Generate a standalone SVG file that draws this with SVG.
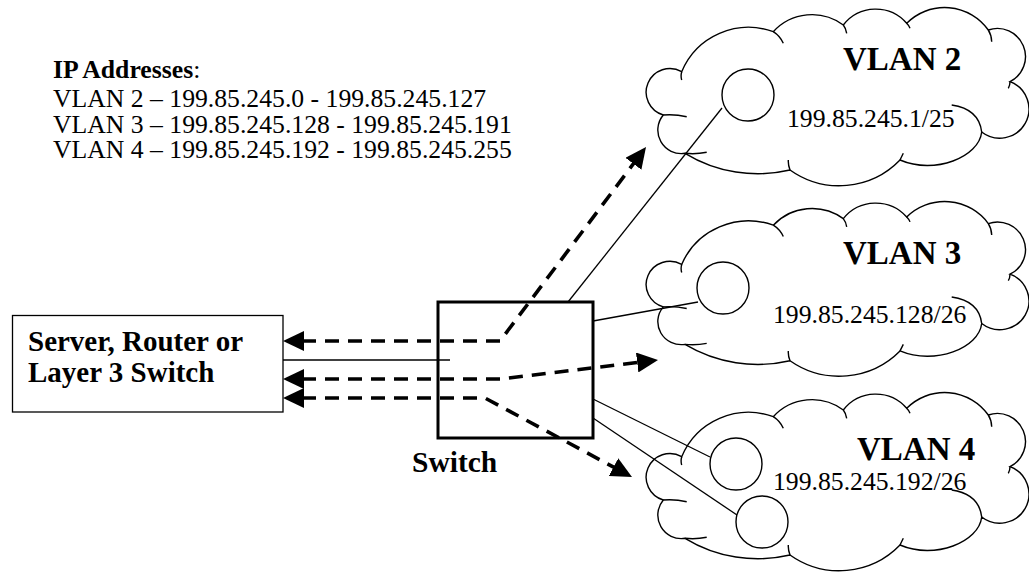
<svg xmlns="http://www.w3.org/2000/svg" width="1029" height="576" viewBox="0 0 1029 576">
<defs>
<style>
.bold{font-family:"Liberation Serif","Times New Roman",serif;font-weight:bold;fill:#000}
.reg{font-family:"Liberation Serif","Times New Roman",serif;font-weight:normal;fill:#000}
.cloud{fill:#fff;stroke:#000;stroke-width:1.4}
.inner{fill:none;stroke:#000;stroke-width:1.4}
.thin{fill:none;stroke:#000;stroke-width:1.3}
.host{fill:#fff;stroke:#000;stroke-width:1.4}
.flow{fill:none;stroke:#000;stroke-width:3.6;stroke-dasharray:14 9;stroke-dashoffset:14;marker-start:url(#ah);marker-end:url(#ah)}
</style>
<marker id="ah" viewBox="0 0 21 20" markerWidth="21" markerHeight="20" refX="11" refY="10" orient="auto-start-reverse" markerUnits="userSpaceOnUse">
<path d="M0,0 L21,10 L0,20 z" fill="#000"/>
</marker>
<g id="cloudShape">
<path class="cloud" vector-effect="non-scaling-stroke" d="M36.7,64.7 A72.5,72.5 0 0 1 128.3,24.7 A52.5,52.5 0 0 1 198.3,18 A41,41 0 0 1 261.7,16.3 A53.6,53.6 0 0 1 343.3,23 A28.1,28.1 0 0 1 365,74.7 A29.2,29.2 0 1 1 336.7,125 C334,150 290,168 255,153 A84.7,84.7 0 0 1 145,163 A140,140 0 0 1 40,146.3 A23.5,23.5 0 0 1 18.3,108 A23.7,23.7 0 1 1 36.7,64.7 Z"/>
<path class="inner" vector-effect="non-scaling-stroke" d="M36.7,64.7 Q35.5,69 36.7,73 M128.3,24.7 Q135,29 138.3,36.3 M198.3,18 Q201,21.5 201.7,26.3 M261.7,16.3 Q264,18.5 265,21.3 M343.3,23 Q346.5,28 346.7,34.7 M365,74.7 Q365,78.5 363.3,81.3 M336.7,125 Q334,102 306.7,98 M255,153 Q257,149 258.3,146.3 M145,163 Q143,158 143.3,153 M40,146.3 Q51,147.5 61.7,145.3 M18.3,108 Q30,107 41.7,109.7"/>
</g>
</defs>

<g id="ip-list">
<text x="53" y="78" font-size="25.7"><tspan class="bold">IP Addresses</tspan><tspan class="reg">:</tspan></text>
<text class="reg" x="53" y="107" font-size="25.7">VLAN 2 – 199.85.245.0 - 199.85.245.127</text>
<text class="reg" x="53" y="133" font-size="25.7">VLAN 3 – 199.85.245.128 - 199.85.245.191</text>
<text class="reg" x="53" y="158" font-size="25.7">VLAN 4 – 199.85.245.192 - 199.85.245.255</text>
</g>

<g id="vlan2">
<use href="#cloudShape" transform="translate(645,7)"/>
<text class="bold" x="843" y="70" font-size="33">VLAN 2</text>
<text class="reg" x="787" y="127" font-size="25.7">199.85.245.1/25</text>
</g>

<g id="vlan3">
<use href="#cloudShape" transform="translate(645,201) scale(1,0.98)"/>
<text class="bold" x="843" y="264" font-size="33">VLAN 3</text>
<text class="reg" x="773" y="323" font-size="25.7">199.85.245.128/26</text>
</g>

<g id="vlan4">
<use href="#cloudShape" transform="translate(645,392)"/>
<text class="bold" x="857" y="460" font-size="33">VLAN 4</text>
<text class="reg" x="773" y="490" font-size="25.7">199.85.245.192/26</text>
</g>

<g id="server">
<rect x="12.5" y="315.5" width="270.5" height="96.5" fill="#fff" stroke="#000" stroke-width="1.3"/>
<text class="bold" x="28" y="351" font-size="29">Server, Router or</text>
<text class="bold" x="28" y="382" font-size="29">Layer 3 Switch</text>
</g>

<g id="switch">
<rect x="438" y="302" width="155" height="136" fill="none" stroke="#000" stroke-width="3"/>
<text class="bold" x="412" y="472" font-size="29.5">Switch</text>
</g>

<g id="connectors">
<line class="thin" x1="283" y1="360" x2="450" y2="360"/>
<line class="thin" x1="568" y1="302" x2="722" y2="108"/>
<line class="thin" x1="593" y1="321" x2="698" y2="302"/>
<line class="thin" x1="593" y1="399" x2="710" y2="457"/>
<line class="thin" x1="593" y1="418" x2="737" y2="515"/>
<path class="flow" d="M293,341 L500,341 L640,155"/>
<path class="flow" d="M293,379 L500,379 L648.1,361.2"/>
<path class="flow" d="M293,398 L485,398 L623.2,472.3"/>
</g>

<g id="hosts">
<circle class="host" cx="748" cy="95" r="26"/>
<circle class="host" cx="723" cy="288" r="26"/>
<circle class="host" cx="736" cy="464" r="26"/>
<circle class="host" cx="762" cy="522" r="26"/>
</g>
</svg>
